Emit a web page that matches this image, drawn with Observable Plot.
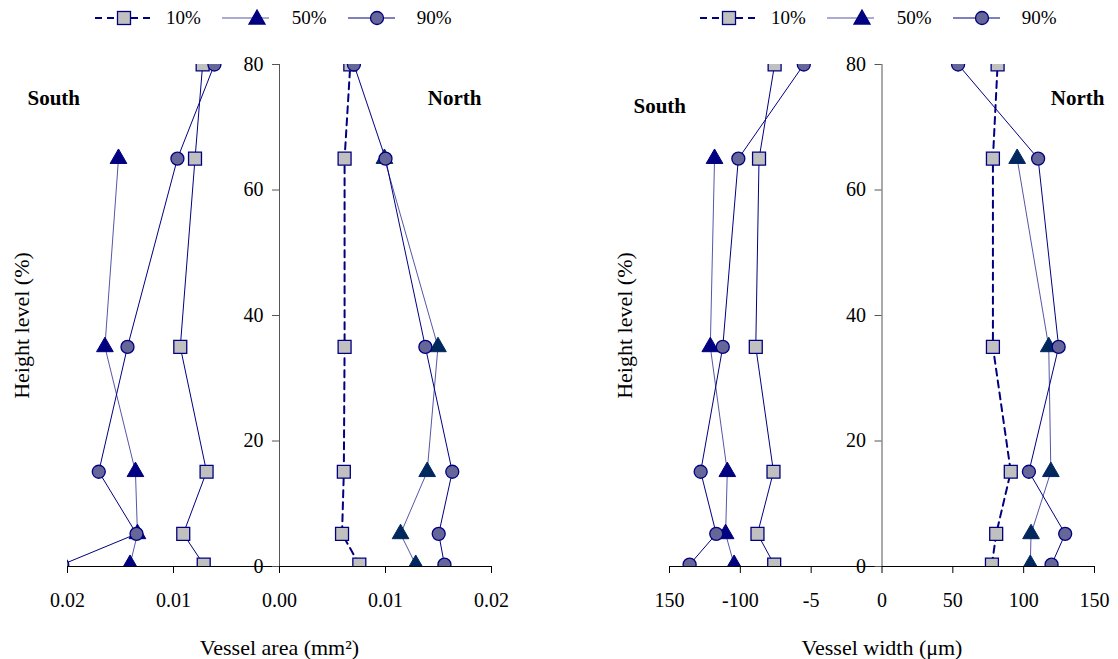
<!DOCTYPE html>
<html><head><meta charset="utf-8">
<script src="https://cdn.jsdelivr.net/npm/d3@7"></script>
<script src="https://cdn.jsdelivr.net/npm/@observablehq/plot@0.6"></script>
<style>
body{margin:0;background:#fff;font-family:'Liberation Serif','Times New Roman',serif;}
#wrap{display:flex;width:1118px;height:659px;overflow:hidden;}
.col{width:559px;flex:0 0 559px;}
.legend{height:36px;display:flex;align-items:center;font-size:19px;color:#000;box-sizing:border-box;}
.legend svg{display:block;overflow:visible}
.legend span{display:block}
</style></head><body><div id="wrap"></div>
<script>
// Height levels (%)
const heights = [0.3, 5.2, 15.1, 35, 65, 80];
const series = ["10%", "50%", "90%"];

// Vessel area (mm²) — South plotted to the left, North to the right
const areaSouth10 = [0.00715, 0.00908, 0.00688, 0.00936, 0.00797, 0.00725];
const areaSouth50 = [0.0141, 0.0134, 0.01359, 0.01647, 0.01519, null];
const areaSouth90 = [0.0205, 0.01349, 0.01705, 0.01434, 0.00963, 0.00614];
const areaNorth10 = [0.00753, 0.0059, 0.00607, 0.00614, 0.00614, 0.00668];
const areaNorth50 = [0.01285, 0.01142, 0.01393, 0.01495, 0.0099, null];
const areaNorth90 = [0.01556, 0.01502, 0.0163, 0.01376, 0.0100, 0.00702];

// Vessel width (µm)
const widthSouth10 = [76.1, 87.9, 76.6, 89.1, 86.8, 75.8];
const widthSouth50 = [104.4, 110.4, 109.2, 121.2, 118.2, null];
const widthSouth90 = [135.8, 117.0, 128.0, 112.4, 101.4, 55.2];
const widthNorth10 = [77.6, 80.6, 90.9, 78.3, 78.3, 81.6];
const widthNorth50 = [104.7, 105.2, 119.2, 117.7, 95.4, null];
const widthNorth90 = [119.7, 129.3, 103.7, 124.7, 110.2, 53.7];

// Ticks
const yTicks = [0, 20, 40, 60, 80];
const areaTicks = [-0.02, -0.01, 0, 0.01, 0.02];
const areaTickLabels = ["0.02", "0.01", "0.00", "0.01", "0.02"];
const widthTicks = [-150, -100, -50, 0, 50, 100, 150];
const widthTickLabels = ["150", "-100", "-5", "0", "50", "100", "150"];

const NAVY = "#000080";
const FONT = "'Liberation Serif','Times New Roman',serif";

function rows(vals, side) {
  return heights.map((h, i) => ({h, v: vals[i], side}))
    .filter(d => d.v != null)
    .map(d => ({...d, x: d.side === "South" ? -d.v : d.v}));
}

function legend(padLeft) {
  const div = document.createElement("div");
  div.className = "legend";
  div.style.paddingLeft = padLeft + "px";
  const ns = "http://www.w3.org/2000/svg";
  const items = [
    {w: 59, mx: 29, dash: "7,5", sw: 2, stroke: NAVY, sym: "square", gapText: 12, gapAfter: 21},
    {w: 47, mx: 35, dash: null, sw: 1, stroke: "#5656a6", sym: "triangle", gapText: 23, gapAfter: 21},
    {w: 47, mx: 29, dash: null, sw: 1, stroke: NAVY, sym: "circle", gapText: 22, gapAfter: 0}
  ];
  items.forEach((it, i) => {
    const svg = document.createElementNS(ns, "svg");
    svg.setAttribute("width", it.w); svg.setAttribute("height", 20);
    const line = document.createElementNS(ns, "line");
    line.setAttribute("x1", 0); line.setAttribute("x2", it.w);
    line.setAttribute("y1", 10); line.setAttribute("y2", 10);
    line.setAttribute("stroke", it.stroke); line.setAttribute("stroke-width", it.sw);
    if (it.dash) line.setAttribute("stroke-dasharray", it.dash);
    svg.appendChild(line);
    let m;
    if (it.sym === "square") {
      m = document.createElementNS(ns, "rect");
      m.setAttribute("x", it.mx - 6.5); m.setAttribute("y", 3.5);
      m.setAttribute("width", 13); m.setAttribute("height", 13);
      m.setAttribute("fill", "#c0c0c0");
    } else if (it.sym === "triangle") {
      m = document.createElementNS(ns, "path");
      m.setAttribute("d", `M${it.mx},2 L${it.mx + 8},16 L${it.mx - 8},16 Z`);
      m.setAttribute("fill", NAVY);
    } else {
      m = document.createElementNS(ns, "circle");
      m.setAttribute("cx", it.mx); m.setAttribute("cy", 10); m.setAttribute("r", 6.5);
      m.setAttribute("fill", "#666699");
    }
    m.setAttribute("stroke", NAVY); m.setAttribute("stroke-width", 1.3);
    svg.appendChild(m);
    div.appendChild(svg);
    const t = document.createElement("span");
    t.textContent = series[i];
    t.style.marginLeft = it.gapText + "px";
    t.style.marginRight = it.gapAfter + "px";
    div.appendChild(t);
  });
  return div;
}

function panel({S10, S50, S90, N10, N50, N90, ticks, tickLabels, xDomain, marginLeft, marginRight, title, southDx, southDy, northDx, northDy, yTitleDx}) {
  const s10 = rows(S10, "South"), s50 = rows(S50, "South"), s90 = rows(S90, "South");
  const n10 = rows(N10, "North"), n50 = rows(N50, "North"), n90 = rows(N90, "North");
  const width = 559, height = 623;
  const axisOffset = (width - marginLeft - marginRight) / 2;
  const common = {x: "x", y: "h", clip: true};
  return Plot.plot({
    width, height,
    marginLeft, marginRight, marginTop: 28, marginBottom: 93,
    style: {fontFamily: FONT, fontSize: "20px", background: "#fff", color: "#000", overflow: "visible"},
    x: {domain: xDomain},
    y: {domain: [0, 80]},
    marks: [
      Plot.ruleY([0], {stroke: "#000", strokeWidth: 1}),
      Plot.ruleX([0], {stroke: "#555", strokeWidth: 1}),
      Plot.axisX(ticks, {anchor: "bottom", tickSize: 7, tickPadding: 19, stroke: "#000",
        tickFormat: d => tickLabels[ticks.indexOf(d)], label: null, fontSize: 20}),
      Plot.axisY(yTicks, {anchor: "left", dx: axisOffset, tickSize: 7, tickPadding: 9, stroke: "#555",
        label: null, fontSize: 20}),
      // lines
      Plot.line(s10, {...common, stroke: NAVY, strokeWidth: 1}),
      Plot.line(n10, {...common, stroke: NAVY, strokeWidth: 2, strokeDasharray: "7,5"}),
      Plot.line(s50, {...common, stroke: "#5656a6", strokeWidth: 1}),
      Plot.line(n50, {...common, stroke: "#5656a6", strokeWidth: 1}),
      Plot.line(s90, {...common, stroke: NAVY, strokeWidth: 1}),
      Plot.line(n90, {...common, stroke: NAVY, strokeWidth: 1}),
      // markers
      Plot.dot([...s10, ...n10], {...common, symbol: "square", r: 7.3, fill: "#c0c0c0", stroke: NAVY, strokeWidth: 1.3}),
      Plot.dot(s50, {...common, symbol: "triangle", r: 6.2, fill: NAVY, stroke: NAVY, strokeWidth: 1}),
      Plot.dot(n50, {...common, symbol: "triangle", r: 6.2, fill: "#00285e", stroke: "#00285e", strokeWidth: 1}),
      Plot.dot([...s90, ...n90], {...common, symbol: "circle", r: 6.5, fill: "#666699", stroke: NAVY, strokeWidth: 1.3}),
      // annotations
      Plot.text(["South"], {text: d => d, frameAnchor: "top-left", textAnchor: "start", lineAnchor: "middle", dx: southDx, dy: southDy, fontWeight: "bold", fontSize: 21}),
      Plot.text(["North"], {text: d => d, frameAnchor: "top-right", textAnchor: "end", lineAnchor: "middle", dx: northDx, dy: northDy, fontWeight: "bold", fontSize: 21}),
      Plot.text(["Height level (%)"], {text: d => d, frameAnchor: "left", textAnchor: "middle", lineAnchor: "middle", dx: yTitleDx, dy: 10, rotate: -90, fontSize: 22}),
      Plot.text([title], {text: d => d, frameAnchor: "bottom", textAnchor: "middle", lineAnchor: "middle", dy: 81, fontSize: 22})
    ]
  });
}

const wrap = document.getElementById("wrap");

const col1 = document.createElement("div"); col1.className = "col";
col1.appendChild(legend(95));
col1.appendChild(panel({
  S10: areaSouth10, S50: areaSouth50, S90: areaSouth90,
  N10: areaNorth10, N50: areaNorth50, N90: areaNorth90,
  ticks: areaTicks, tickLabels: areaTickLabels, xDomain: [-0.02, 0.02],
  marginLeft: 67, marginRight: 68, title: "Vessel area (mm²)",
  southDx: -40, southDy: 34, northDx: -10, northDy: 34, yTitleDx: -46
}));
wrap.appendChild(col1);

const col2 = document.createElement("div"); col2.className = "col";
col2.appendChild(legend(141));
col2.appendChild(panel({
  S10: widthSouth10, S50: widthSouth50, S90: widthSouth90,
  N10: widthNorth10, N50: widthNorth50, N90: widthNorth90,
  ticks: widthTicks, tickLabels: widthTickLabels, xDomain: [-150, 150],
  marginLeft: 110, marginRight: 24, title: "Vessel width (μm)",
  southDx: -36, southDy: 42, northDx: 10, northDy: 34, yTitleDx: -44.5
}));
wrap.appendChild(col2);
</script>
</body></html>
